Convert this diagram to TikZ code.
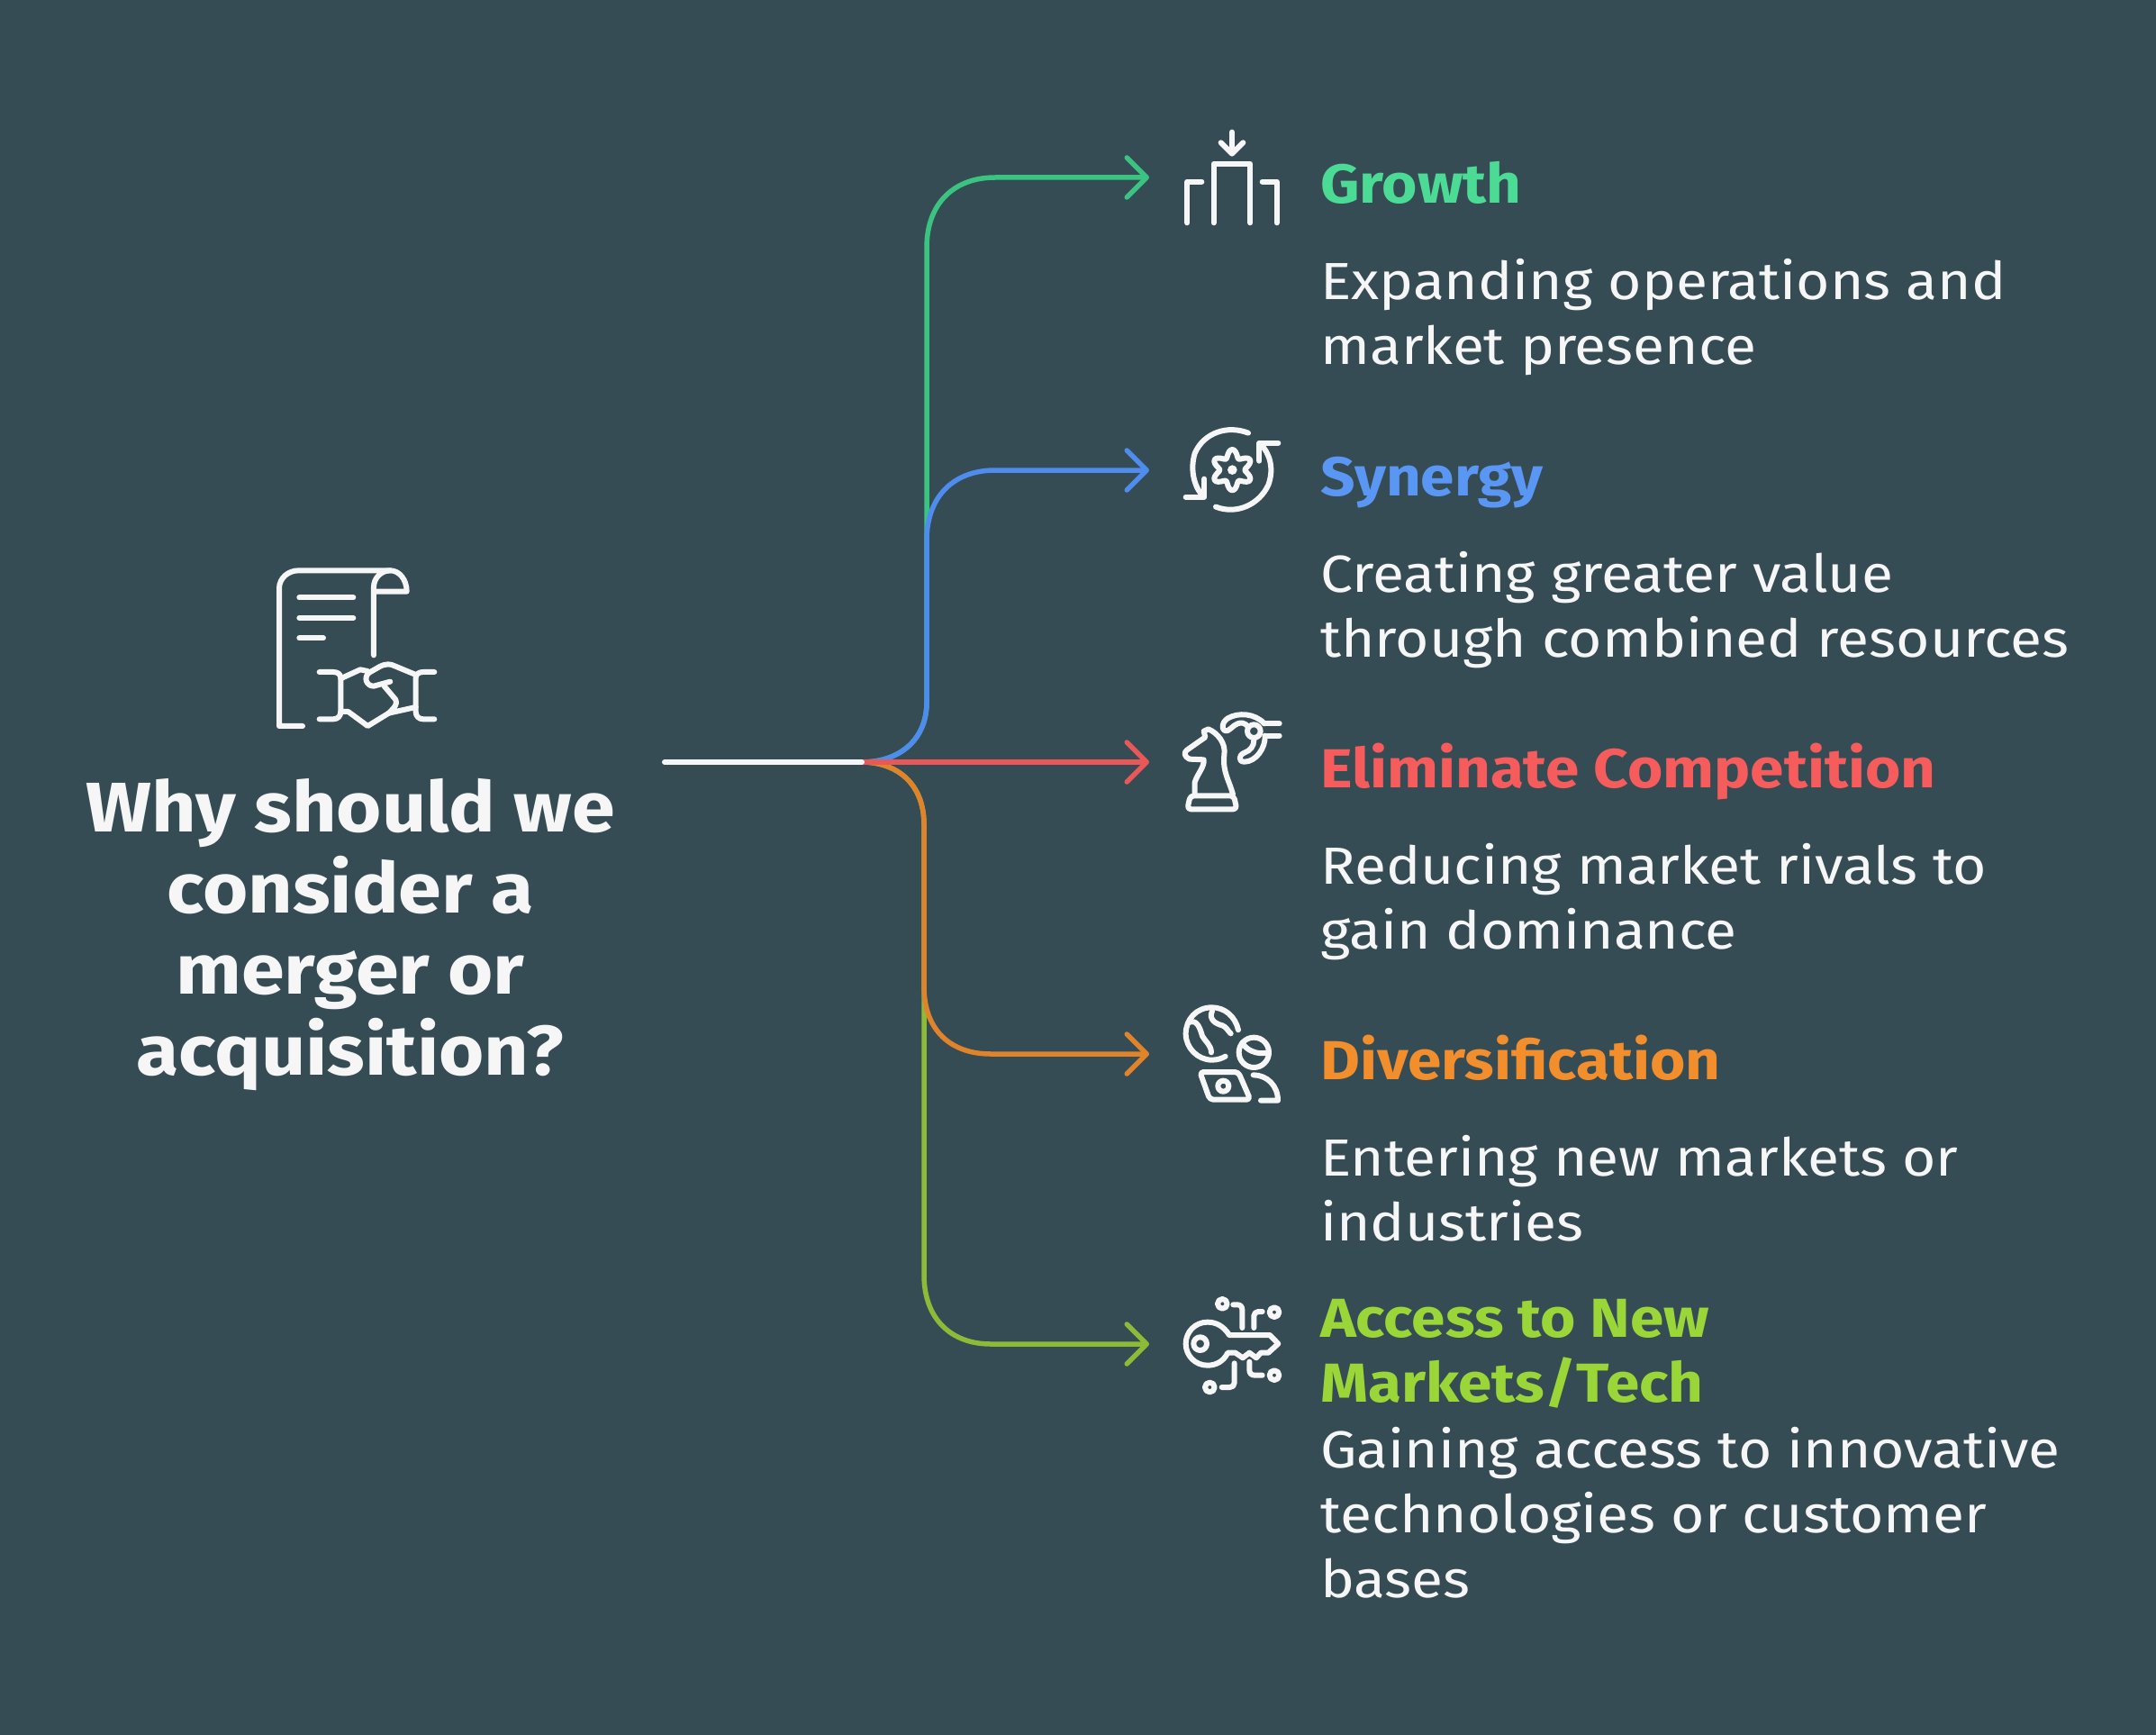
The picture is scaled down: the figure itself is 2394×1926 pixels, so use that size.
\documentclass[tikz,border=0pt]{standalone}
\usepackage{fontspec}
\usetikzlibrary{arrows.meta}
\setmainfont[FakeStretch=1.105]{Fira Sans}
\definecolor{bg}{RGB}{54,76,85}
\definecolor{wht}{RGB}{246,246,246}
\definecolor{lgrn}{RGB}{59,195,129}
\definecolor{lblu}{RGB}{78,140,238}
\definecolor{lred}{RGB}{232,88,88}
\definecolor{lorg}{RGB}{224,132,44}
\definecolor{lolv}{RGB}{141,187,55}
\definecolor{tgrn}{RGB}{76,219,148}
\definecolor{tblu}{RGB}{90,151,245}
\definecolor{tred}{RGB}{247,92,92}
\definecolor{torg}{RGB}{242,142,44}
\definecolor{tolv}{RGB}{155,214,57}
\tikzset{
  conn/.style={line width=5.5pt,line cap=round,-{Straight Barb[length=22pt,width=44pt,line cap=round,line join=round]}},
  iconline/.style={draw=wht,fill=none,line width=6pt,line cap=round,line join=round},
  iconfill/.style={fill=wht,draw=none},
  heading/.style={anchor=north west,inner sep=0pt,align=left,font=\fontsize{61}{72}\selectfont\bfseries,execute at begin node={\rule{0pt}{60pt}}},
  body/.style={anchor=north west,inner sep=0pt,align=left,font=\fontsize{58}{72}\selectfont,text=wht,execute at begin node={\rule{0pt}{60pt}}},
  title/.style={anchor=north,inner sep=0pt,align=center,font=\fontsize{78}{90}\selectfont\bfseries,text=wht,execute at begin node={\rule{0pt}{70pt}}},
}
\begin{document}
\begin{tikzpicture}[x=1pt,y=-1pt]
\fill[bg] (0,0) rectangle (2394,1926);
\useasboundingbox (0,0) rectangle (2394,1926);
% connectors
\coordinate (stem) at (738,846);
\coordinate (hub) at (957,846);
\coordinate (end1) at (1276,197);
\coordinate (end2) at (1276,522);
\coordinate (end3) at (1276,846);
\coordinate (end4) at (1276,1170);
\coordinate (end5) at (1276,1492);
\draw[conn,lgrn] (hub) .. controls (1000,846) and (1029,820) .. (1029,780) -- (1029,275) .. controls (1029,225) and (1060,197) .. (1105,197) -- (end1);
\draw[conn,lblu] (hub) .. controls (1000,846) and (1029,820) .. (1029,780) -- (1029,600) .. controls (1029,550) and (1060,522) .. (1105,522) -- (end2);
\draw[conn,lolv] (hub) .. controls (996,846) and (1026,870) .. (1026,915) -- (1026,1415) .. controls (1026,1465) and (1057,1492) .. (1100,1492) -- (end5);
\draw[conn,lorg] (hub) .. controls (996,846) and (1026,870) .. (1026,915) -- (1026,1095) .. controls (1026,1145) and (1057,1170) .. (1100,1170) -- (end4);
\draw[conn,lred] (hub) -- (end3);
\draw[line width=6pt,line cap=round,wht] (stem) -- (hub);
% main icon
\begin{scope}[shift={(280,600)},x=0.3333pt,y=-0.3333pt,iconline]
\draw (168,618) -- (90,618) -- (90,160) .. controls (90,125) and (120,100) .. (155,100) -- (460,100) .. controls (490,100) and (515,130) .. (515,170) -- (405,170);
\draw (405,382) -- (405,155) .. controls (405,125) and (430,100) .. (460,100);
\draw (157,190) -- (337,190);
\draw (157,258) -- (337,258);
\draw (157,325) -- (237,325);
\draw (224,438) -- (270,438) .. controls (285,438) and (295,445) .. (295,458) -- (295,570) .. controls (295,585) and (285,595) .. (270,595) -- (224,595);
\draw (607,438) -- (570,438) .. controls (555,438) and (545,445) .. (545,458) -- (545,570) .. controls (545,585) and (555,595) .. (570,595) -- (607,595);
\draw (295,460) -- (360,430) -- (385,435);
\draw (460,470) -- (405,485) .. controls (380,485) and (370,455) .. (390,440) -- (425,420) .. controls (445,410) and (460,410) .. (475,418) -- (545,447);
\draw (440,485) -- (478,530) .. controls (485,545) and (475,555) .. (455,575) -- (545,555);
\draw (295,570) -- (320,570) -- (385,618) -- (455,575);
\end{scope}
% growth icon
\begin{scope}[shift={(1290,130)},x=0.3333pt,y=-0.3333pt,iconline]
\draw (234,50) -- (234,120);
\draw (197,85) -- (234,122) -- (271,85);
\draw (173,352) -- (173,155) -- (295,155) -- (295,352);
\draw (85,352) -- (85,215) -- (133,215);
\draw (335,215) -- (383,215) -- (383,352);
\end{scope}
% synergy icon
\begin{scope}[shift={(1300,460)},x=0.3333pt,y=-0.3333pt,iconline]
\draw (258,62) .. controls (190,35) and (110,60) .. (80,130) .. controls (65,180) and (75,235) .. (105,270);
\draw (50,275) -- (112,275) -- (112,215);
\draw (150,308) .. controls (220,335) and (295,300) .. (325,235) .. controls (345,180) and (330,130) .. (298,97);
\draw (295,155) -- (295,95) -- (358,95);
\draw plot[domain=0:360,samples=73,smooth] ({205+(55-13*cos(6*\x))*cos(\x)},{185+(55-13*cos(6*\x))*sin(\x)}) -- cycle;
\fill[iconfill] (205,185) circle[radius=16];
\end{scope}
% competition icon
\begin{scope}[shift={(1300,780)},x=0.3333pt,y=-0.3333pt,iconline]
\draw[rounded corners=4pt] (65,310) -- (210,310) -- (220,355) -- (55,355) -- cycle;
\draw (80,305) -- (80,265) .. controls (90,235) and (112,215) .. (110,190) -- (62,188) .. controls (45,180) and (42,165) .. (55,157) -- (115,115) -- (110,95) -- (125,88) .. controls (155,100) and (185,135) .. (178,175) .. controls (172,230) and (195,260) .. (207,305);
\draw (277,95) circle[radius=22];
\draw (312,70) .. controls (280,35) and (225,32) .. (190,52) .. controls (165,68) and (170,100) .. (190,93) .. controls (205,85) and (215,65) .. (240,68) .. controls (248,70) and (252,74) .. (255,78);
\draw (314,110) .. controls (316,150) and (285,197) .. (245,197) .. controls (225,197) and (225,175) .. (245,167) .. controls (265,160) and (277,145) .. (277,125);
\draw (312,70) -- (362,70);
\draw (314,110) -- (362,110);
\end{scope}
% diversification icon
\begin{scope}[shift={(1300,1105)},x=0.3333pt,y=-0.3333pt,iconline]
\draw (225,115) .. controls (215,70) and (180,40) .. (137,40) .. controls (85,40) and (50,80) .. (50,128) .. controls (50,175) and (90,215) .. (137,215) .. controls (155,215) and (170,210) .. (182,203);
\draw (60,90) .. controls (85,80) and (95,100) .. (105,135) .. controls (112,150) and (135,165) .. (135,190);
\draw (138,52) .. controls (125,80) and (150,95) .. (172,100) .. controls (185,105) and (190,118) .. (200,127);
\draw (277,190) circle[radius=50];
\draw (238,158) .. controls (250,180) and (285,200) .. (325,190);
\draw[rounded corners=4pt] (97,255) -- (225,255) -- (265,347) -- (130,347) -- cycle;
\draw (175,302) circle[radius=18];
\draw (275,265) .. controls (320,265) and (357,300) .. (357,350) -- (300,350);
\end{scope}
% access icon
\begin{scope}[shift={(1300,1430)},x=0.3333pt,y=-0.3333pt,iconline]
\draw (195,156) -- (330,156) -- (358,185) -- (325,215) -- (300,215) -- (285,232) -- (262,215) -- (240,232) -- (215,215) -- (190,215) .. controls (175,245) and (150,257) .. (122,257) .. controls (82,257) and (50,225) .. (50,185) .. controls (50,145) and (82,113) .. (122,113) .. controls (150,113) and (175,125) .. (195,156);
\draw (98,185) circle[radius=22];
\draw (172,52) circle[radius=16];
\draw (208,55) -- (222,55) .. controls (232,55) and (238,62) .. (238,72) -- (238,132);
\draw (277,132) -- (277,92) .. controls (277,84) and (284,78) .. (292,78) -- (305,78);
\draw (345,80) circle[radius=16];
\draw (212,250) -- (212,315) .. controls (212,324) and (206,330) .. (197,330) -- (170,330);
\draw (130,330) circle[radius=16];
\draw (262,245) -- (262,272) .. controls (262,283) and (268,290) .. (280,290) -- (305,290);
\draw (345,290) circle[radius=16];
\end{scope}
% texts
\node[title] (q) at (389,864) {Why should we\\consider a\\merger or\\acquisition?};
\node[heading,text=tgrn] (h1) at (1466,165) {Growth};
\node[body] (b1) at (1466,287) {Expanding operations and\\market presence};
\node[heading,text=tblu] (h2) at (1466,490) {Synergy};
\node[body] (b2) at (1466,612) {Creating greater value\\through combined resources};
\node[heading,text=tred] (h3) at (1466,814) {Eliminate Competition};
\node[body] (b3) at (1466,936) {Reducing market rivals to\\gain dominance};
\node[heading,text=torg] (h4) at (1466,1138) {Diversification};
\node[body] (b4) at (1466,1260) {Entering new markets or\\industries};
\node[heading,text=tolv] (h5) at (1466,1442) {Access to New\\Markets/Tech};
\node[body] (b5) at (1466,1584) {Gaining access to innovative\\technologies or customer\\bases};
\end{tikzpicture}
\end{document}
